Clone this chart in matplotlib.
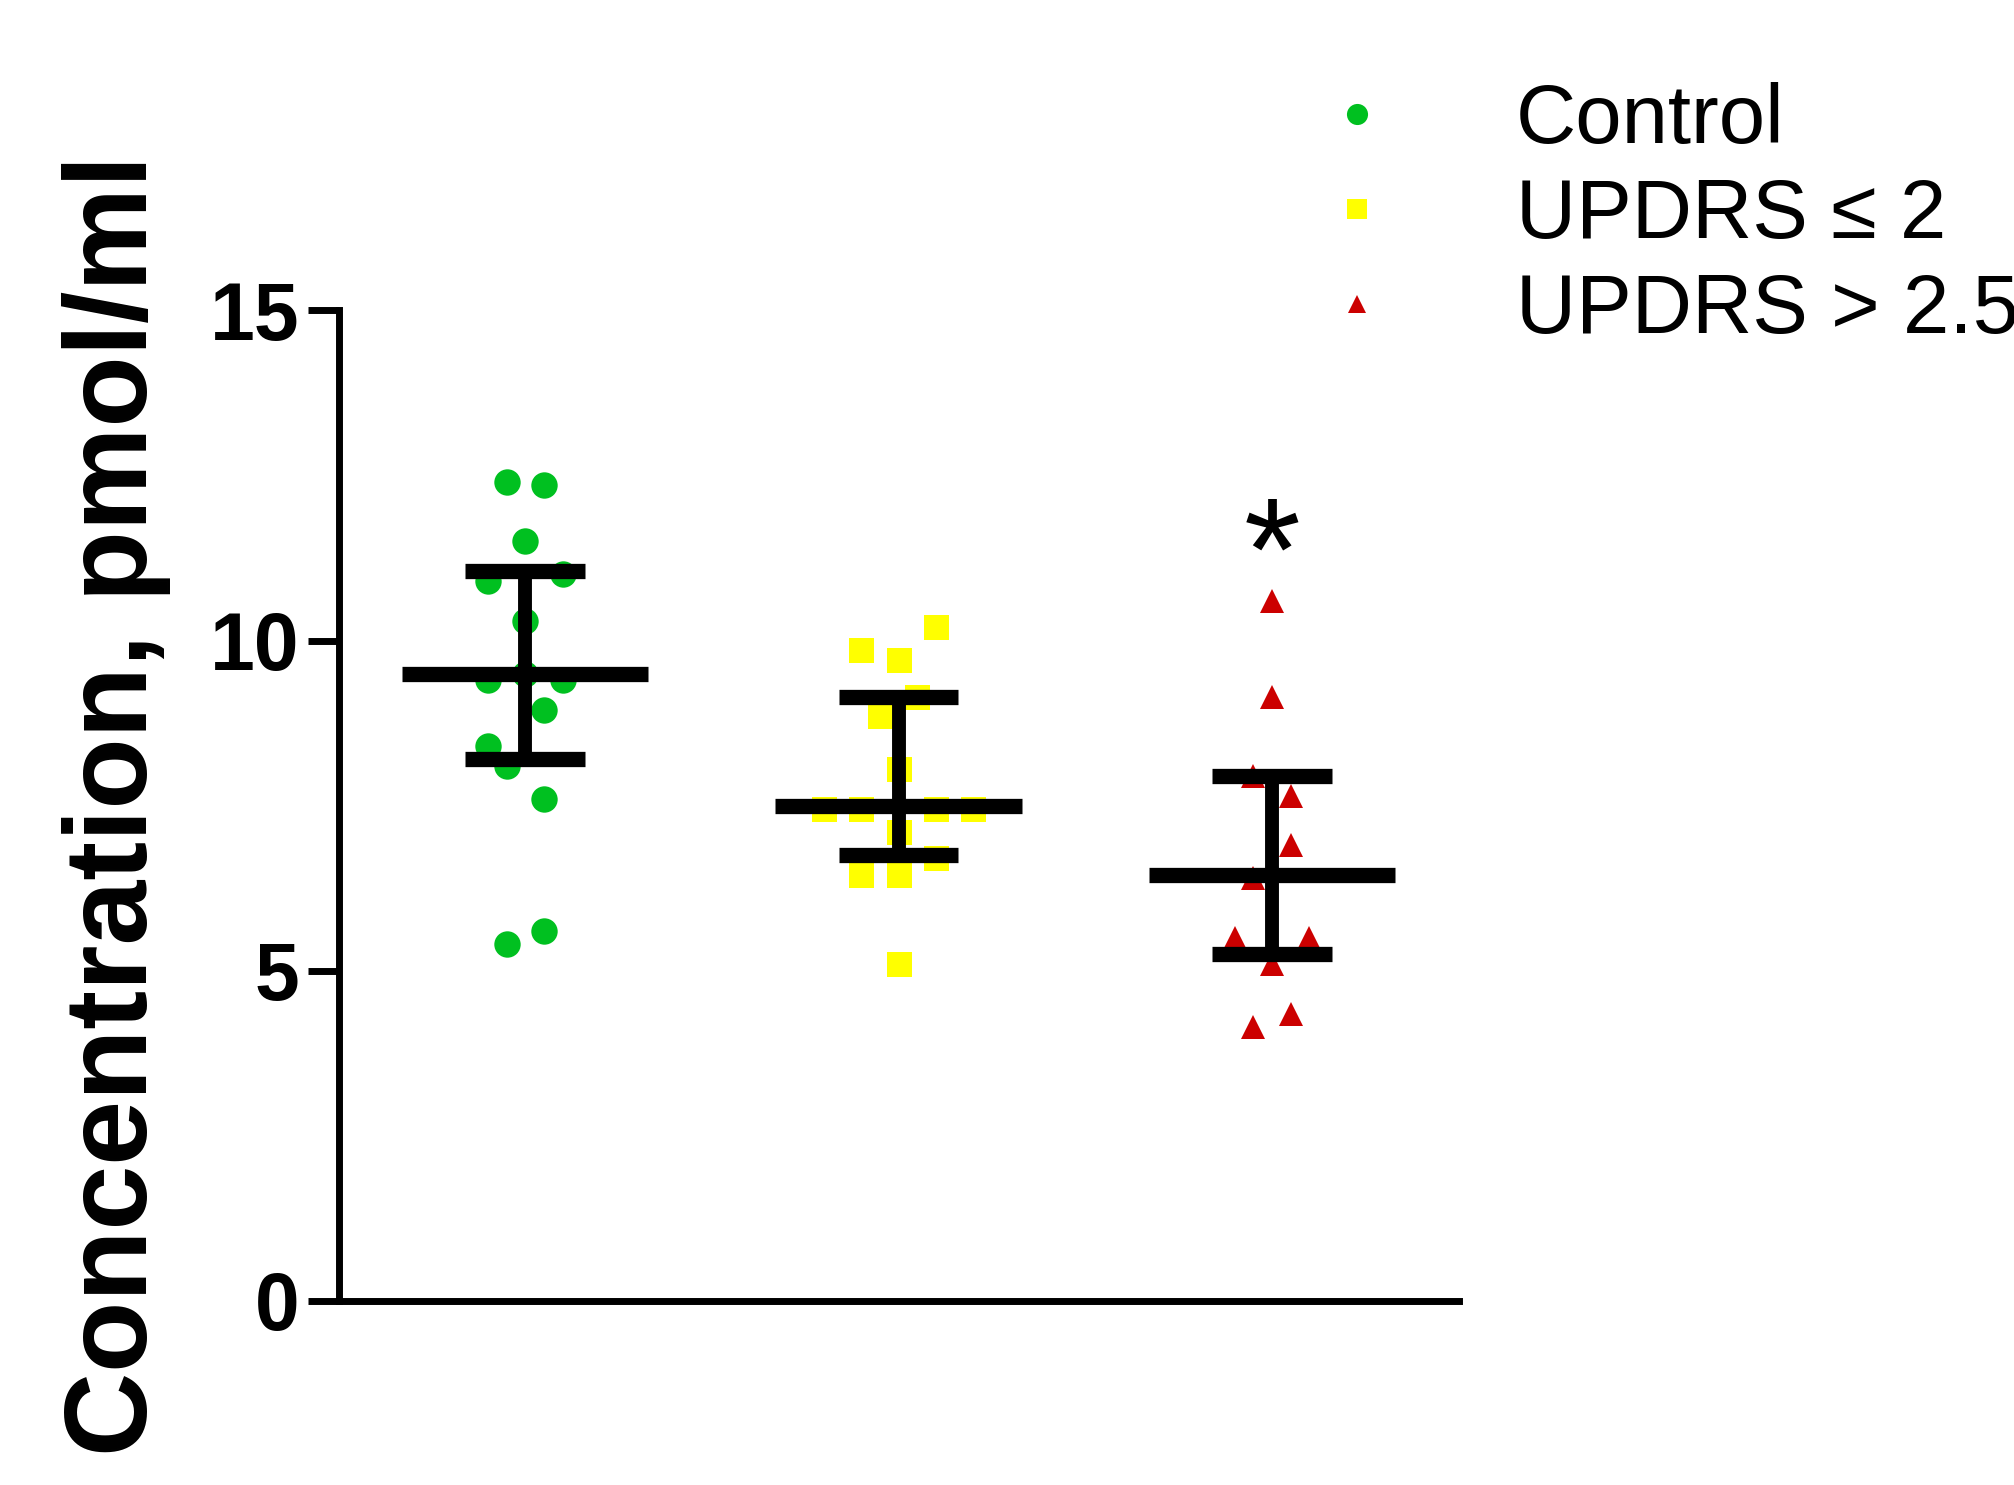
import numpy as np
import matplotlib.pyplot as plt

plt.rcParams['font.family'] = ['Liberation Sans', 'DejaVu Sans']

groups = ['Control', 'UPDRS \u2264 2', 'UPDRS > 2.5']
colors = ['#00c020', '#ffff00', '#cc0000']
markers = ['o', 's', '^']
sizes = [19, 18, 17]

ctrl_x = [-0.05, 0.05, 0.0, -0.1, 0.1, 0.0, 0.0, -0.1, 0.1, 0.05, -0.1, -0.05, 0.05, -0.05, 0.05]
ctrl_y = [12.4, 12.35, 11.5, 10.9, 11.0, 10.3, 9.5, 9.4, 9.4, 8.95, 8.4, 8.1, 7.6, 5.4, 5.6]
low_x = [0.1, -0.1, 0.0, 0.05, -0.05, 0.0, -0.2, -0.1, 0.1, 0.2, 0.0, 0.1, -0.1, 0.0, 0.0]
low_y = [10.2, 9.85, 9.7, 9.15, 8.85, 8.05, 7.45, 7.45, 7.45, 7.45, 7.1, 6.7, 6.45, 6.45, 5.1]
high_x = [0.0, 0.0, -0.05, 0.05, 0.05, -0.05, -0.1, 0.1, 0.0, -0.05, 0.05]
high_y = [10.6, 9.15, 7.95, 7.65, 6.9, 6.4, 5.5, 5.5, 5.1, 4.15, 4.35]

means = [9.5, 7.5, 6.45]
sd_hi = [11.05, 9.15, 7.95]
sd_lo = [8.2, 6.75, 5.25]

fig = plt.figure(figsize=(20.15, 14.85), dpi=100)
ax = fig.add_axes([0.168, 0.124, 0.556, 0.667])

xs = [ctrl_x, low_x, high_x]
ys = [ctrl_y, low_y, high_y]
for i in range(3):
    ax.plot(np.array(xs[i]) + i + 1, ys[i], linestyle='none', marker=markers[i],
            markersize=sizes[i], color=colors[i], markeredgewidth=0, label=groups[i], zorder=2)

for i in range(3):
    c = i + 1
    ax.plot([c - 0.33, c + 0.33], [means[i]] * 2, color='black', lw=11, zorder=3, solid_capstyle='butt')
    ax.plot([c, c], [sd_lo[i], sd_hi[i]], color='black', lw=10, zorder=3)
    for v in (sd_lo[i], sd_hi[i]):
        ax.plot([c - 0.16, c + 0.16], [v, v], color='black', lw=11, zorder=3, solid_capstyle='butt')

ax.text(3, 11.2, '*', fontsize=105, ha='center', va='center')

ax.set_xlim(0.5, 3.5)
ax.set_ylim(0, 15)
ax.set_yticks([0, 5, 10, 15])
ax.set_xticks([])
for s in ['top', 'right']:
    ax.spines[s].set_visible(False)
for s in ['left', 'bottom']:
    ax.spines[s].set_linewidth(5)
ax.tick_params(axis='y', width=5, length=22, labelsize=58, pad=6)
for lab in ax.get_yticklabels():
    lab.set_fontweight('bold')
ax.set_ylabel('Concentration, pmol/ml', fontsize=84, fontweight='bold', labelpad=28)

leg = fig.legend(loc='upper left', bbox_to_anchor=(0.595, 0.995), frameon=False, fontsize=60,
                 handletextpad=0.9, labelspacing=0.2, markerscale=0.8)

fig.savefig('out.png')
